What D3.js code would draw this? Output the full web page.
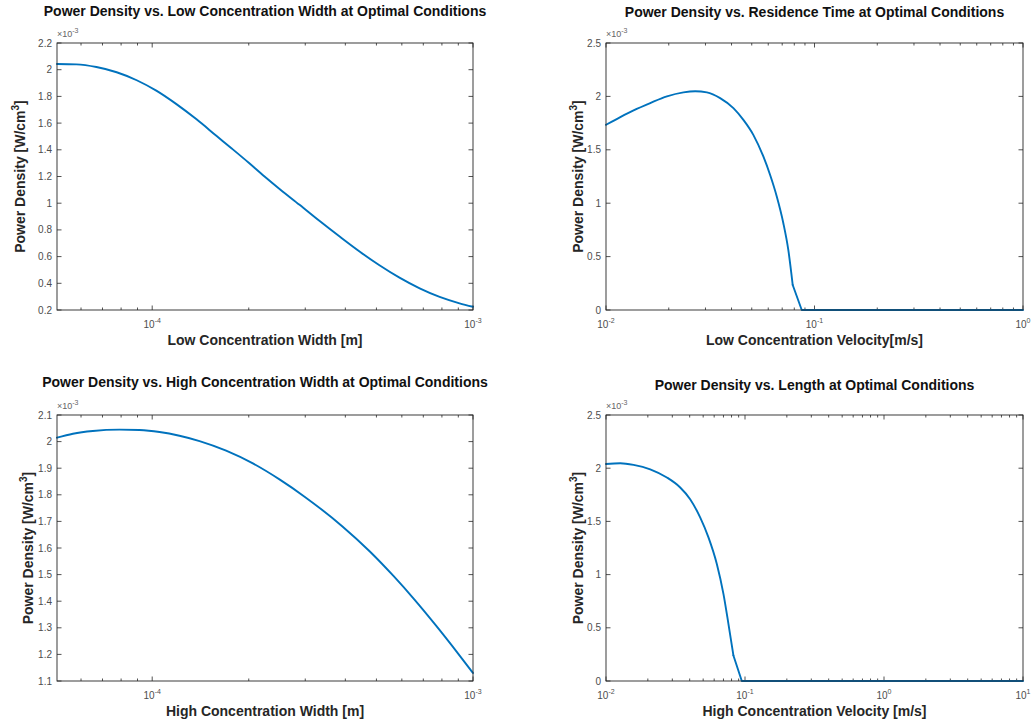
<!DOCTYPE html>
<html>
<head>
<meta charset="utf-8">
<script src="https://cdn.jsdelivr.net/npm/d3@7"></script>
<style>
  html, body { margin: 0; padding: 0; background: #fff; }
  svg { display: block; font-family: "Liberation Sans", Arial, Helvetica, sans-serif; }
</style>
</head>
<body>
<svg id="chart" width="1034" height="724"></svg>
<script>
// ---------- DATA (power density in units of 1e-3 W/cm^3) ----------
// Panel 1: Power density vs. low concentration width
const lowWidth_m = [5.05e-5, 5.8e-5, 6.7e-5, 7.75e-5, 8.95e-5, 1.03e-4, 1.19e-4, 1.375e-4, 1.585e-4, 1.77e-4, 2.0e-4, 2.24e-4, 2.5e-4, 2.88e-4, 3.32e-4, 3.84e-4, 4.43e-4, 5.11e-4, 5.9e-4, 6.82e-4, 7.87e-4, 9.08e-4, 1.0e-3];
const pdLowWidth  = [2.043, 2.040, 2.020, 1.981, 1.921, 1.843, 1.742, 1.628, 1.505, 1.410, 1.303, 1.200, 1.105, 0.988, 0.868, 0.750, 0.638, 0.535, 0.442, 0.362, 0.298, 0.250, 0.224];

// Panel 2: Power density vs. low concentration velocity
const lowVel_ms = [0.01, 0.01171, 0.01356, 0.0163, 0.0196, 0.02352, 0.02677, 0.03047, 0.03527, 0.04084, 0.0456, 0.05089, 0.05684, 0.06121, 0.06592, 0.07089, 0.07488, 0.07862, 0.08685, 0.1, 0.3, 1.0];
const pdLowVel   = [1.734, 1.806, 1.869, 1.9375, 2.0, 2.0375, 2.048, 2.0375, 1.984, 1.89, 1.78, 1.64, 1.4375, 1.266, 1.0625, 0.8125, 0.5625, 0.234, 0, 0, 0, 0];

// Panel 3: Power density vs. high concentration width
const highWidth_m = [5.05e-5, 5.66e-5, 6.53e-5, 7.91e-5, 9.13e-5, 1.054e-4, 1.216e-4, 1.405e-4, 1.70e-4, 2.06e-4, 2.5e-4, 2.985e-4, 3.91e-4, 4.77e-4, 5.65e-4, 6.56e-4, 7.65e-4, 8.95e-4, 1.0e-3];
const pdHighWidth  = [2.0146, 2.0295, 2.040, 2.045, 2.0435, 2.036, 2.022, 2.002, 1.966, 1.918, 1.857, 1.793, 1.682, 1.587, 1.495, 1.407, 1.310, 1.206, 1.13];

// Panel 4: Power density vs. high concentration velocity
const highVel_ms = [0.01, 0.01267, 0.01579, 0.0208, 0.02742, 0.03418, 0.04031, 0.04757, 0.05459, 0.06271, 0.06996, 0.07599, 0.08254, 0.09484, 0.1, 1.0, 10.0];
const pdHighVel  = [2.040, 2.046, 2.031, 1.99, 1.9125, 1.819, 1.709, 1.5375, 1.35, 1.1, 0.819, 0.5375, 0.24, 0, 0, 0, 0];

// Tick values
const yTicksLowWidth  = [0.2, 0.4, 0.6, 0.8, 1.0, 1.2, 1.4, 1.6, 1.8, 2.0, 2.2];
const yTicksHighWidth = [1.1, 1.2, 1.3, 1.4, 1.5, 1.6, 1.7, 1.8, 1.9, 2.0, 2.1];
const yTicksVelocity  = [0, 0.5, 1.0, 1.5, 2.0, 2.5];
const xDecadesWidth   = [-4, -3];
const xDecadesLowVel  = [-2, -1, 0];
const xDecadesHighVel = [-2, -1, 0, 1];

// Text
const titles = [
  "Power Density vs. Low Concentration Width at Optimal Conditions",
  "Power Density vs. Residence Time at Optimal Conditions",
  "Power Density vs. High Concentration Width at Optimal Conditions",
  "Power Density vs. Length at Optimal Conditions"
];
const xLabels = [
  "Low Concentration Width [m]",
  "Low Concentration Velocity[m/s]",
  "High Concentration Width [m]",
  "High Concentration Velocity [m/s]"
];

// ---------- LAYOUT ----------
const panels = [
  { x: lowWidth_m,  y: pdLowWidth,  xDom: [5.05e-5, 1e-3], yDom: [0.2, 2.2], yTicks: yTicksLowWidth,  dec: xDecadesWidth,
    rect: {l: 57, r: 473, t: 43, b: 310}, titleY: 16, ylabX: 25, cutoff: false },
  { x: lowVel_ms,   y: pdLowVel,    xDom: [0.01, 1],       yDom: [0, 2.5],   yTicks: yTicksVelocity,  dec: xDecadesLowVel,
    rect: {l: 606, r: 1023, t: 43, b: 310}, titleY: 17, ylabX: 583, cutoff: true },
  { x: highWidth_m, y: pdHighWidth, xDom: [5.05e-5, 1e-3], yDom: [1.1, 2.1], yTicks: yTicksHighWidth, dec: xDecadesWidth,
    rect: {l: 57, r: 473, t: 415, b: 681}, titleY: 387, ylabX: 33, cutoff: false },
  { x: highVel_ms,  y: pdHighVel,   xDom: [0.01, 10],      yDom: [0, 2.5],   yTicks: yTicksVelocity,  dec: xDecadesHighVel,
    rect: {l: 606, r: 1023, t: 415, b: 681}, titleY: 390, ylabX: 583, cutoff: true }
];

const svg = d3.select("#chart");
const axisColor = "#262626";
const tickTextColor = "#4d4d4d";
const lineColor = "#0072BD";
const fmt = v => String(+v.toFixed(2));

panels.forEach((p, i) => {
  const R = p.rect;
  const xs = d3.scaleLog().domain(p.xDom).range([R.l, R.r]);
  const ys = d3.scaleLinear().domain(p.yDom).range([R.b, R.t]);
  const g = svg.append("g");

  // minor log ticks
  const minors = [];
  const d0 = Math.floor(Math.log10(p.xDom[0])), d1 = Math.ceil(Math.log10(p.xDom[1]));
  for (let d = d0; d < d1; d++) {
    for (let k = 2; k <= 9; k++) {
      const v = k * Math.pow(10, d);
      if (v > p.xDom[0] && v < p.xDom[1]) minors.push(v);
    }
  }
  const majors = p.dec.map(e => Math.pow(10, e));

  // x ticks (bottom & top, inward)
  const tickG = g.append("g").attr("stroke", axisColor).attr("stroke-width", 0.8);
  minors.forEach(v => {
    const X = xs(v);
    tickG.append("line").attr("x1", X).attr("x2", X).attr("y1", R.b).attr("y2", R.b - 2.5);
    tickG.append("line").attr("x1", X).attr("x2", X).attr("y1", R.t).attr("y2", R.t + 2.5);
  });
  majors.forEach(v => {
    const X = xs(v);
    tickG.append("line").attr("x1", X).attr("x2", X).attr("y1", R.b).attr("y2", R.b - 4.5);
    tickG.append("line").attr("x1", X).attr("x2", X).attr("y1", R.t).attr("y2", R.t + 4.5);
  });
  // y ticks (left & right, inward)
  p.yTicks.forEach(v => {
    const Y = ys(v);
    tickG.append("line").attr("x1", R.l).attr("x2", R.l + 4.5).attr("y1", Y).attr("y2", Y);
    tickG.append("line").attr("x1", R.r).attr("x2", R.r - 4.5).attr("y1", Y).attr("y2", Y);
  });

  // data line(s)
  const pts = p.x.map((xv, j) => [xv, p.y[j]]);
  const smooth = d3.line().x(d => xs(d[0])).y(d => ys(d[1])).curve(d3.curveMonotoneX);
  const straight = d3.line().x(d => xs(d[0])).y(d => ys(d[1]));
  const segs = [];
  if (p.cutoff) {
    // smooth part up to the last positive sample, straight segments afterwards
    let k = 0;
    pts.forEach((d, j) => { if (d[1] > 0) k = j; });
    segs.push(smooth(pts.slice(0, k + 1)));
    segs.push(straight(pts.slice(k)));
  } else {
    segs.push(smooth(pts));
  }
  segs.forEach(dstr => {
    g.append("path").attr("d", dstr)
      .attr("fill", "none")
      .attr("stroke", lineColor)
      .attr("stroke-width", 1.9)
      .attr("stroke-linejoin", "round")
      .attr("stroke-linecap", "round");
  });

  // box
  g.append("rect").attr("x", R.l).attr("y", R.t).attr("width", R.r - R.l).attr("height", R.b - R.t)
    .attr("fill", "none").attr("stroke", axisColor).attr("stroke-width", 0.9);

  // y tick labels
  p.yTicks.forEach(v => {
    g.append("text").attr("x", R.l - 5).attr("y", ys(v)).attr("dy", "0.35em")
      .attr("text-anchor", "end").attr("font-size", 10).attr("fill", tickTextColor)
      .text(fmt(v));
  });
  // x tick labels (10^n)
  p.dec.forEach(e => {
    const t = g.append("text").attr("x", xs(Math.pow(10, e))).attr("y", R.b + 18)
      .attr("text-anchor", "middle").attr("font-size", 10).attr("fill", tickTextColor);
    t.append("tspan").text("10");
    t.append("tspan").attr("dy", -5).attr("font-size", 7).text(String(e));
  });
  // exponent label
  const ex = g.append("text").attr("x", R.l).attr("y", R.t - 6)
    .attr("font-size", 9).attr("fill", "#666");
  ex.append("tspan").text("\u00d710");
  ex.append("tspan").attr("dy", -4).attr("font-size", 7).text("-3");

  // title
  g.append("text").attr("x", (R.l + R.r) / 2).attr("y", p.titleY)
    .attr("text-anchor", "middle").attr("font-size", 14).attr("font-weight", "bold").attr("fill", "#111")
    .text(titles[i]);
  // x label
  g.append("text").attr("x", (R.l + R.r) / 2).attr("y", R.b + 35)
    .attr("text-anchor", "middle").attr("font-size", 14).attr("font-weight", "bold").attr("fill", "#262626")
    .text(xLabels[i]);
  // y label
  const yl = g.append("text")
    .attr("transform", `translate(${p.ylabX},${(R.t + R.b) / 2}) rotate(-90)`)
    .attr("text-anchor", "middle").attr("font-size", 14).attr("font-weight", "bold").attr("fill", "#262626");
  yl.append("tspan").text("Power Density [W/cm");
  yl.append("tspan").attr("dy", -6).attr("font-size", 10).text("3");
  yl.append("tspan").attr("dy", 6).text("]");
});
</script>
</body>
</html>
